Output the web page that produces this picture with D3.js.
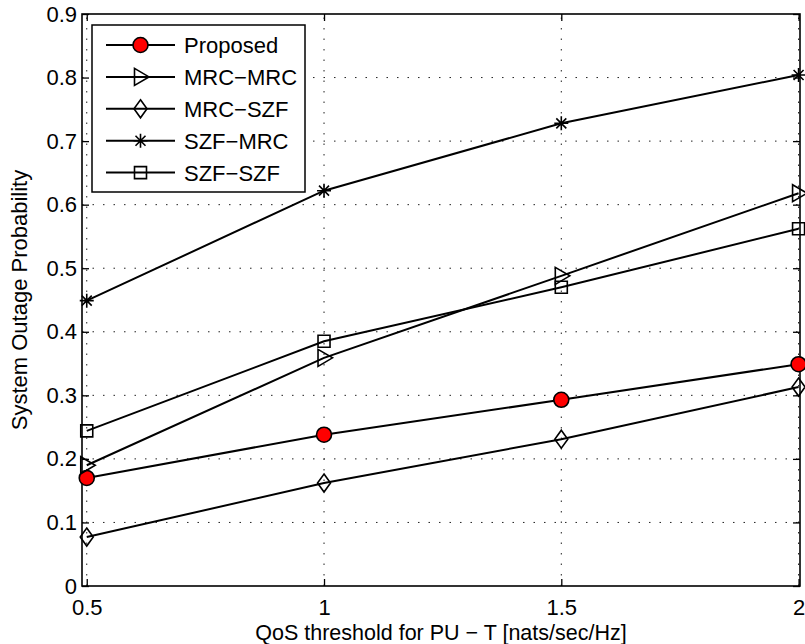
<!DOCTYPE html>
<html>
<head>
<meta charset="utf-8">
<script src="https://cdn.jsdelivr.net/npm/d3@7"></script>
<style>
  html, body { margin: 0; padding: 0; background: #fff; }
  svg { display: block; }
  text { font-family: "Liberation Sans", Arial, Helvetica, sans-serif; fill: #000; }
</style>
</head>
<body>
<script>
// ---- data ----
const xValues = [0.5, 1, 1.5, 2];
const proposed = [0.170, 0.238, 0.293, 0.349];
const mrcMrc   = [0.190, 0.359, 0.488, 0.618];
const mrcSzf   = [0.077, 0.162, 0.231, 0.313];
const szfMrc   = [0.449, 0.622, 0.728, 0.804];
const szfSzf   = [0.244, 0.385, 0.470, 0.562];
const seriesNames = ["Proposed", "MRC\u2212MRC", "MRC\u2212SZF", "SZF\u2212MRC", "SZF\u2212SZF"];
const xTicks = [0.5, 1, 1.5, 2];
const xTickLabels = ["0.5", "1", "1.5", "2"];
const yTicks = [0, 0.1, 0.2, 0.3, 0.4, 0.5, 0.6, 0.7, 0.8, 0.9];
const yTickLabels = ["0", "0.1", "0.2", "0.3", "0.4", "0.5", "0.6", "0.7", "0.8", "0.9"];
const xLabel = "QoS threshold for PU \u2212 T [nats/sec/Hz]";
const yLabel = "System Outage Probability";

// ---- layout ----
const W = 805, H = 644;
const L = 82, R = 800, T = 14, B = 586;
const FONT = 22;

const svg = d3.select("body").append("svg").attr("width", W).attr("height", H);
svg.append("rect").attr("width", W).attr("height", H).attr("fill", "#fff");

const x = d3.scaleLinear().domain([0.49, 2.003]).range([L, R]);
const y = d3.scaleLinear().domain([0, 0.9]).range([B, T]);

// grid
const grid = svg.append("g").attr("stroke", "#222").attr("stroke-width", 1)
  .attr("stroke-dasharray", "1.5,9");
grid.selectAll("line.gx").data(xTicks).join("line")
  .attr("x1", d => x(d)).attr("x2", d => x(d)).attr("y1", B).attr("y2", T);
grid.selectAll("line.gy").data(yTicks.filter(d => d > 0 && d < 0.9)).join("line")
  .attr("x1", L).attr("x2", R).attr("y1", d => y(d)).attr("y2", d => y(d));

// axes
const fmtX = (d) => xTickLabels[xTicks.indexOf(d)];
const fmtY = (d) => yTickLabels[yTicks.findIndex(v => Math.abs(v - d) < 1e-9)];

const axB = svg.append("g").attr("transform", `translate(0,${B})`)
  .call(d3.axisBottom(x).tickValues(xTicks).tickFormat(fmtX).tickSize(-7).tickPadding(13));
const axL = svg.append("g").attr("transform", `translate(${L},0)`)
  .call(d3.axisLeft(y).tickValues(yTicks).tickFormat(fmtY).tickSize(-7).tickPadding(5));
const axT = svg.append("g").attr("transform", `translate(0,${T})`)
  .call(d3.axisTop(x).tickValues(xTicks).tickFormat("").tickSize(-7));
const axR = svg.append("g").attr("transform", `translate(${R},0)`)
  .call(d3.axisRight(y).tickValues(yTicks).tickFormat("").tickSize(-7));
[axB, axL, axT, axR].forEach(a => {
  a.select(".domain").remove();
  a.selectAll(".tick line").attr("stroke", "#000").attr("stroke-width", 1.3);
  a.selectAll("text").attr("font-size", FONT).attr("font-family", "Liberation Sans, Arial, sans-serif").attr("fill", "#000");
});

// box
svg.append("rect").attr("x", L).attr("y", T).attr("width", R - L).attr("height", B - T)
  .attr("fill", "none").attr("stroke", "#000").attr("stroke-width", 1.6);

// axis labels
svg.append("text").attr("x", (L + R) / 2).attr("y", 640).attr("text-anchor", "middle")
  .attr("font-size", 21.5).text(xLabel);
svg.append("text").attr("transform", `translate(27,${(T + B) / 2}) rotate(-90)`)
  .attr("text-anchor", "middle").attr("font-size", FONT).text(yLabel);

// markers
const markerPaths = {
  circle: () => d3.symbol(d3.symbolCircle, Math.PI * 7.5 * 7.5)(),
  triangle: () => "M-6,-8.5L8.5,0L-6,8.5Z",
  diamond: () => "M0,-9L6.5,0L0,9L-6.5,0Z",
  star: () => "M-7,0L7,0M0,-7L0,7M-5,-5L5,5M-5,5L5,-5",
  square: () => "M-6,-6L6,-6L6,6L-6,6Z"
};
const series = [
  { name: seriesNames[0], values: proposed, marker: "circle", fill: "#ff0000" },
  { name: seriesNames[1], values: mrcMrc, marker: "triangle", fill: "none" },
  { name: seriesNames[2], values: mrcSzf, marker: "diamond", fill: "none" },
  { name: seriesNames[3], values: szfMrc, marker: "star", fill: "none" },
  { name: seriesNames[4], values: szfSzf, marker: "square", fill: "none" }
];

const line = d3.line().x((d, i) => x(xValues[i])).y(d => y(d));
const plot = svg.append("g");
series.forEach(s => {
  const g = plot.append("g");
  g.append("path").attr("d", line(s.values)).attr("fill", "none")
    .attr("stroke", "#000").attr("stroke-width", 2);
  g.selectAll("path.m").data(s.values).join("path").attr("class", "m")
    .attr("transform", (d, i) => `translate(${x(xValues[i])},${y(d)})`)
    .attr("d", markerPaths[s.marker]())
    .attr("fill", s.fill).attr("stroke", "#000").attr("stroke-width", 1.6);
});

// legend
const lg = svg.append("g");
lg.append("rect").attr("x", 92).attr("y", 25).attr("width", 213).attr("height", 167)
  .attr("fill", "#fff").attr("stroke", "#000").attr("stroke-width", 1.5);
series.forEach((s, i) => {
  const cy = 45 + i * 31.9;
  lg.append("line").attr("x1", 106).attr("x2", 175).attr("y1", cy).attr("y2", cy)
    .attr("stroke", "#000").attr("stroke-width", 2);
  lg.append("path").attr("transform", `translate(140.5,${cy})`).attr("d", markerPaths[s.marker]())
    .attr("fill", s.fill).attr("stroke", "#000").attr("stroke-width", 1.6);
  lg.append("text").attr("x", 184).attr("y", cy).attr("dy", "0.36em")
    .attr("font-size", FONT).text(s.name);
});
</script>
</body>
</html>
